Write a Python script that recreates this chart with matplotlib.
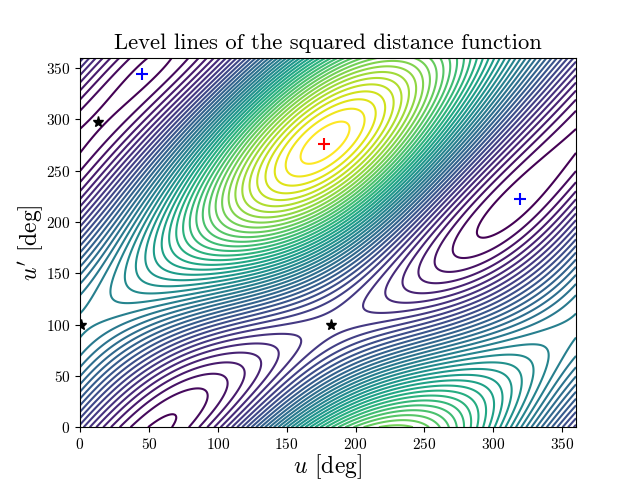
import numpy as np, matplotlib
matplotlib.use('Agg')
import matplotlib.pyplot as plt
plt.rcParams['font.family'] = 'cmr10'
plt.rcParams['mathtext.fontset'] = 'cm'
plt.rcParams['axes.formatter.use_mathtext'] = True
plt.rcParams['axes.unicode_minus'] = False

# stationary points (u, u') in degrees
maxima_u = [177]
maxima_v = [276]
minima_u = [45, 319]
minima_v = [344, 222]
saddle_u = [1, 13, 182]
saddle_v = [100, 297, 100]

# squared distance written as a trigonometric polynomial in (u, u'),
# in units of one level spacing; coefficients estimated from the level lines
const_term = 17.126
u_terms = [-7.797, 0.069, 0.692]            # cos u, sin u, cos 2u
v_terms = [0.644, -4.380, 0.024]            # cos u', sin u', cos 2u'
cross_terms = [-2.072, 13.459, -13.589, -2.529]  # cc, cs, sc, ss
level_values = list(range(1, 44))

grid_deg = np.linspace(0, 360, 361)
U, V = np.meshgrid(grid_deg, grid_deg)
ur, vr = np.radians(U), np.radians(V)
Z = (const_term
     + u_terms[0]*np.cos(ur) + u_terms[1]*np.sin(ur) + u_terms[2]*np.cos(2*ur)
     + v_terms[0]*np.cos(vr) + v_terms[1]*np.sin(vr) + v_terms[2]*np.cos(2*vr)
     + cross_terms[0]*np.cos(ur)*np.cos(vr) + cross_terms[1]*np.cos(ur)*np.sin(vr)
     + cross_terms[2]*np.sin(ur)*np.cos(vr) + cross_terms[3]*np.sin(ur)*np.sin(vr))

fig, ax = plt.subplots(figsize=(6.4, 4.8), dpi=100)
ax.contour(U, V, Z, levels=level_values, cmap='viridis')
ax.plot(saddle_u, saddle_v, 'k*', ms=8, ls='none')
ax.plot(minima_u, minima_v, 'b+', ms=9, mew=1.5, ls='none')
ax.plot(maxima_u, maxima_v, 'r+', ms=9, mew=1.5, ls='none')
ax.set_xlim(0, 360)
ax.set_ylim(0, 360)
ax.set_title('Level lines of the squared distance function', fontsize=16.3)
ax.set_xlabel(r'$u$ [deg]', fontsize=17, labelpad=0)
ax.set_ylabel(r"$u'$ [deg]", fontsize=17, labelpad=1)
ax.tick_params(labelsize=11)
fig.savefig('out.png')
